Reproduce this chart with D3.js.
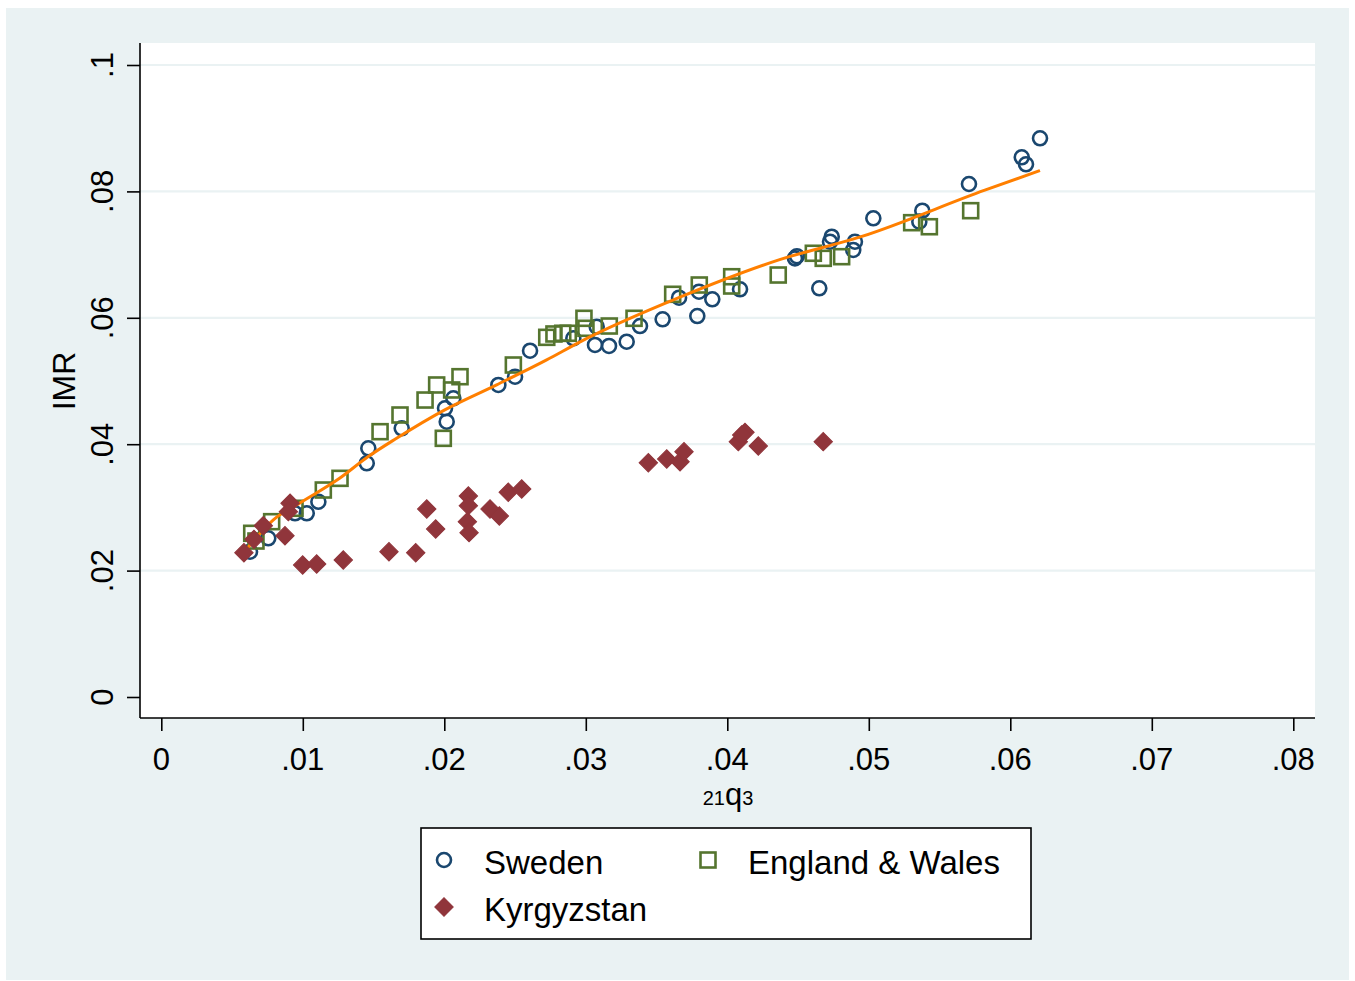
<!DOCTYPE html>
<html>
<head>
<meta charset="utf-8">
<script src="https://cdn.jsdelivr.net/npm/d3@7"></script>
<style>
  html, body { margin: 0; padding: 0; background: #ffffff; }
  svg { display: block; font-family: "Liberation Sans", Arial, sans-serif; }
</style>
</head>
<body>
<svg id="chart" width="1355" height="981"></svg>
<script>
// ---- Data ----
const swedenX = [.00627,.00756,.00945,.01028,.01110,.01463,.01452,.01699,.02005,.02017,.02064,.02382,.02500,.02606,.02912,.03065,.03077,.03164,.03289,.03383,.03543,.03659,.03788,.03800,.03894,.04090,.04478,.04492,.04650,.04738,.04726,.04902,.04890,.05032,.05378,.05357,.05708,.06081,.06111,.06210];
const swedenY = [.02299,.02511,.02907,.02907,.03090,.03935,.03698,.04252,.04568,.04356,.04726,.04937,.05068,.05479,.05676,.05570,.05859,.05554,.05622,.05870,.05976,.06318,.06028,.06413,.06293,.06451,.06941,.06975,.06467,.07283,.07204,.07204,.07073,.07574,.07695,.07521,.08117,.08540,.08429,.08840];

const ewX = [.00639,.00669,.00780,.00945,.01145,.01263,.01546,.01687,.01864,.01946,.02111,.02052,.01993,.02488,.02724,.02775,.02837,.02876,.02987,.03001,.03166,.03341,.03614,.03802,.04031,.04031,.04360,.04608,.04678,.04808,.05303,.05428,.05720];
const ewY = [.02590,.02468,.02774,.02986,.03275,.03460,.04198,.04462,.04699,.04937,.05068,.04858,.04093,.05253,.05691,.05744,.05755,.05755,.05992,.05834,.05870,.05992,.06372,.06519,.06650,.06503,.06677,.07021,.06941,.06967,.07505,.07441,.07695];

const kgX = [.00584,.00655,.00721,.00874,.00910,.00898,.00999,.01098,.01286,.01609,.01798,.01876,.01939,.02170,.02170,.02163,.02175,.02323,.02389,.02452,.02547,.03442,.03572,.03666,.03694,.04078,.04125,.04102,.04219,.04678];
const kgY = [.02283,.02495,.02710,.02552,.03065,.02932,.02089,.02104,.02168,.02299,.02283,.02975,.02658,.03180,.03027,.02774,.02600,.02975,.02864,.03239,.03291,.03707,.03766,.03723,.03881,.04040,.04188,.04146,.03972,.04040];

const fitX = [.0061,.0079,.0098,.0126,.0146,.0166,.0200,.0237,.0272,.0296,.0367,.0437,.0494,.0582,.0621];
const fitY = [.0236,.0280,.0307,.0346,.0380,.0409,.0454,.0494,.0533,.0562,.0633,.0692,.0728,.0802,.0833];

const xTicks = [0,.01,.02,.03,.04,.05,.06,.07,.08];
const xTickLabels = ["0",".01",".02",".03",".04",".05",".06",".07",".08"];
const yTicks = [0,.02,.04,.06,.08,.1];
const yTickLabels = ["0",".02",".04",".06",".08",".1"];
const legendLabels = ["Sweden","England & Wales","Kyrgyzstan"];

// ---- Styles ----
const colSweden = "#1a476f", colEW = "#55752f", colKG = "#90353b", colFit = "#ff7f00";
const bg = "#eaf2f3";

const svg = d3.select("#chart");

// background panel
svg.append("rect").attr("x", 6).attr("y", 8).attr("width", 1343).attr("height", 972).attr("fill", bg);

// plot region
const plotL = 140, plotR = 1315, plotT = 43, plotB = 718;
svg.append("rect").attr("x", plotL).attr("y", plotT).attr("width", plotR - plotL).attr("height", plotB - plotT).attr("fill", "#fff");

const x = d3.scaleLinear().domain([0, 0.08]).range([161.3, 1293.3]);
const y = d3.scaleLinear().domain([0, 0.1]).range([697, 65]);

// grid lines
svg.append("g").selectAll("line").data(yTicks.filter(d => d > 0)).join("line")
  .attr("x1", plotL).attr("x2", plotR)
  .attr("y1", d => y(d)).attr("y2", d => y(d))
  .attr("stroke", bg).attr("stroke-width", 2.2);

// axes
const yAxis = d3.axisLeft(y).tickValues(yTicks).tickSize(13).tickFormat("");
const gy = svg.append("g").attr("transform", `translate(${plotL},0)`).call(yAxis);
gy.select(".domain").remove();
gy.selectAll(".tick line").attr("stroke", "#000").attr("stroke-width", 1.6);
svg.append("line").attr("x1", plotL).attr("x2", plotL).attr("y1", plotT).attr("y2", plotB)
  .attr("stroke", "#000").attr("stroke-width", 1.6);

const xAxis = d3.axisBottom(x).tickValues(xTicks).tickSize(13).tickFormat("");
const gx = svg.append("g").attr("transform", `translate(0,${plotB})`).call(xAxis);
gx.select(".domain").remove();
gx.selectAll(".tick line").attr("stroke", "#000").attr("stroke-width", 1.6);
svg.append("line").attr("x1", plotL).attr("x2", plotR).attr("y1", plotB).attr("y2", plotB)
  .attr("stroke", "#000").attr("stroke-width", 1.6);

// tick labels
svg.append("g").selectAll("text").data(xTicks).join("text")
  .attr("x", d => x(d)).attr("y", 770)
  .attr("text-anchor", "middle").attr("font-size", 31).attr("fill", "#000")
  .text((d, i) => xTickLabels[i]);

svg.append("g").selectAll("text").data(yTicks).join("text")
  .attr("transform", d => `translate(113,${y(d)}) rotate(-90)`)
  .attr("text-anchor", "middle").attr("font-size", 31).attr("fill", "#000")
  .text((d, i) => yTickLabels[i]);

// axis titles
svg.append("text").attr("transform", "translate(75,381) rotate(-90)")
  .attr("text-anchor", "middle").attr("font-size", 32).attr("fill", "#000").text("IMR");

const xt = svg.append("text").attr("x", 728).attr("y", 805).attr("text-anchor", "middle").attr("fill", "#000");
xt.append("tspan").attr("font-size", 20).text("21");
xt.append("tspan").attr("font-size", 31).text("q");
xt.append("tspan").attr("font-size", 20).text("3");

// markers
function circleMark(g, cx, cy) {
  g.append("circle").attr("cx", cx).attr("cy", cy).attr("r", 7)
    .attr("fill", "none").attr("stroke", colSweden).attr("stroke-width", 2.6);
}
function squareMark(g, cx, cy) {
  g.append("rect").attr("x", cx - 7.5).attr("y", cy - 7.5).attr("width", 15).attr("height", 15)
    .attr("fill", "none").attr("stroke", colEW).attr("stroke-width", 2.6);
}
const diamondSym = d3.symbol().type(d3.symbolDiamond2 || d3.symbolSquare).size(190);
function diamondMark(g, cx, cy) {
  g.append("path").attr("d", d3.symbol().type(d3.symbolSquare).size(170)())
    .attr("transform", `translate(${cx},${cy}) rotate(45)`)
    .attr("fill", colKG).attr("stroke", colKG).attr("stroke-width", 1);
}

const gS = svg.append("g");
swedenX.forEach((v, i) => circleMark(gS, x(v), y(swedenY[i])));
const gE = svg.append("g");
ewX.forEach((v, i) => squareMark(gE, x(v), y(ewY[i])));

// fitted line
const fitData = fitX.map((v, i) => [v, fitY[i]]);
svg.append("path").datum(fitData)
  .attr("d", d3.line().x(d => x(d[0])).y(d => y(d[1])).curve(d3.curveMonotoneX))
  .attr("fill", "none").attr("stroke", colFit).attr("stroke-width", 3);

const gK = svg.append("g");
kgX.forEach((v, i) => diamondMark(gK, x(v), y(kgY[i])));

// legend
const lg = svg.append("g");
lg.append("rect").attr("x", 421).attr("y", 828).attr("width", 610).attr("height", 111)
  .attr("fill", "#fff").attr("stroke", "#000").attr("stroke-width", 1.6);
circleMark(lg, 444, 860);
squareMark(lg, 708, 860);
diamondMark(lg, 444, 907);
const legPos = [[484, 874], [748, 874], [484, 921]];
legendLabels.forEach((t, i) => {
  lg.append("text").attr("x", legPos[i][0]).attr("y", legPos[i][1])
    .attr("font-size", 33).attr("fill", "#000").text(t);
});
</script>
</body>
</html>
